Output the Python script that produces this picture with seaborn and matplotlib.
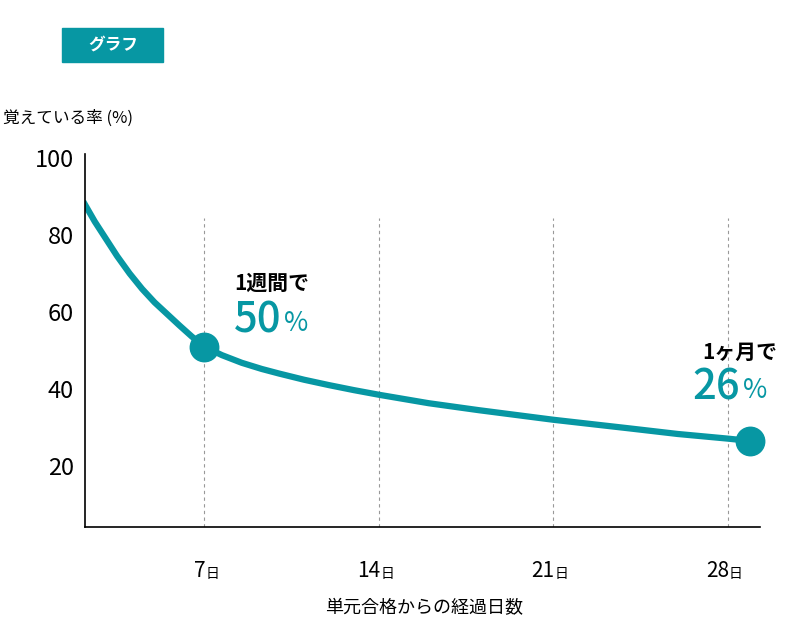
import matplotlib
matplotlib.use("Agg")
import matplotlib.pyplot as plt
import seaborn as sns
import pandas as pd

plt.rcParams["font.family"] = "Noto Sans CJK JP"

TEAL = "#0797a3"

days = [2.2, 2.6, 3, 3.5, 4, 4.5, 5, 5.5, 6, 6.5, 7, 7.7, 8.5, 9.3, 10, 11, 12, 13, 14, 16, 18, 21, 24, 26, 28, 28.9]
retention = [88, 83.5, 79.5, 74.5, 70, 66, 62.5, 59.5, 56.5, 53.6, 51, 48.8, 46.8, 45.2, 44, 42.4, 41, 39.7, 38.5, 36.3, 34.5, 32, 29.8, 28.3, 27.1, 26.5]
marked_days = [7, 28.9]
marked_vals = [51, 26.5]
tick_days = [7, 14, 21, 28]
tick_labels = ["7", "14", "21", "28"]

df = pd.DataFrame({"day": days, "rate": retention})

fig = plt.figure(figsize=(8, 6.4), dpi=100)
ax = fig.add_axes([0.106, 0.177, 0.844, 0.582])

for d in tick_days:
    ax.axvline(d, ymax=0.83, color="#999999", lw=0.8, ls=(0, (3, 3)), zorder=0)

sns.lineplot(data=df, x="day", y="rate", ax=ax, color=TEAL, lw=4.5)
ax.scatter(marked_days, marked_vals, s=420, color=TEAL, zorder=5, clip_on=False)

ax.set_xlim(2.2, 29.3)
ax.set_ylim(4.2, 101)
ax.set_yticks([20, 40, 60, 80, 100])
ax.set_yticklabels(["20", "40", "60", "80", "100"], fontsize=17)
ax.set_xticks(tick_days)
ax.set_xticklabels([])
for d, lab in zip(tick_days, tick_labels):
    ax.annotate(lab, xy=(d, 0), xycoords=("data", "axes fraction"), xytext=(1, -32),
                textcoords="offset points", ha="right", va="center", fontsize=15)
    ax.annotate("日", xy=(d, 0), xycoords=("data", "axes fraction"), xytext=(1, -34),
                textcoords="offset points", ha="left", va="center", fontsize=10)
ax.tick_params(length=0, pad=8)
ax.set_xlabel("")
ax.set_ylabel("")
for s in ["top", "right"]:
    ax.spines[s].set_visible(False)
ax.spines["left"].set_linewidth(1.2)
ax.spines["bottom"].set_linewidth(1.2)

fig.text(0.004, 0.815, "覚えている率 (%)", fontsize=12, va="center")
fig.text(0.53, 0.05, "単元合格からの経過日数", fontsize=13, ha="center", va="center")

fig.patches.append(plt.Rectangle((0.078, 0.903), 0.126, 0.053, transform=fig.transFigure,
                                 color=TEAL, zorder=0))
fig.text(0.141, 0.93, "グラフ", fontsize=12, color="white", weight="bold",
         ha="center", va="center")

ax.text(8.2, 67.5, "1週間で", fontsize=15, weight="bold", va="center")
ax.text(8.2, 58, "50", fontsize=30, color=TEAL, weight="medium", va="center")
ax.text(10.2, 57, "%", fontsize=19, color=TEAL, va="center")
ax.text(27.0, 49.5, "1ヶ月で", fontsize=15, weight="bold", va="center", ha="left")
ax.text(26.6, 40.5, "26", fontsize=30, color=TEAL, weight="medium", va="center")
ax.text(28.6, 39.5, "%", fontsize=19, color=TEAL, va="center")

fig.savefig("out.png", dpi=100)
